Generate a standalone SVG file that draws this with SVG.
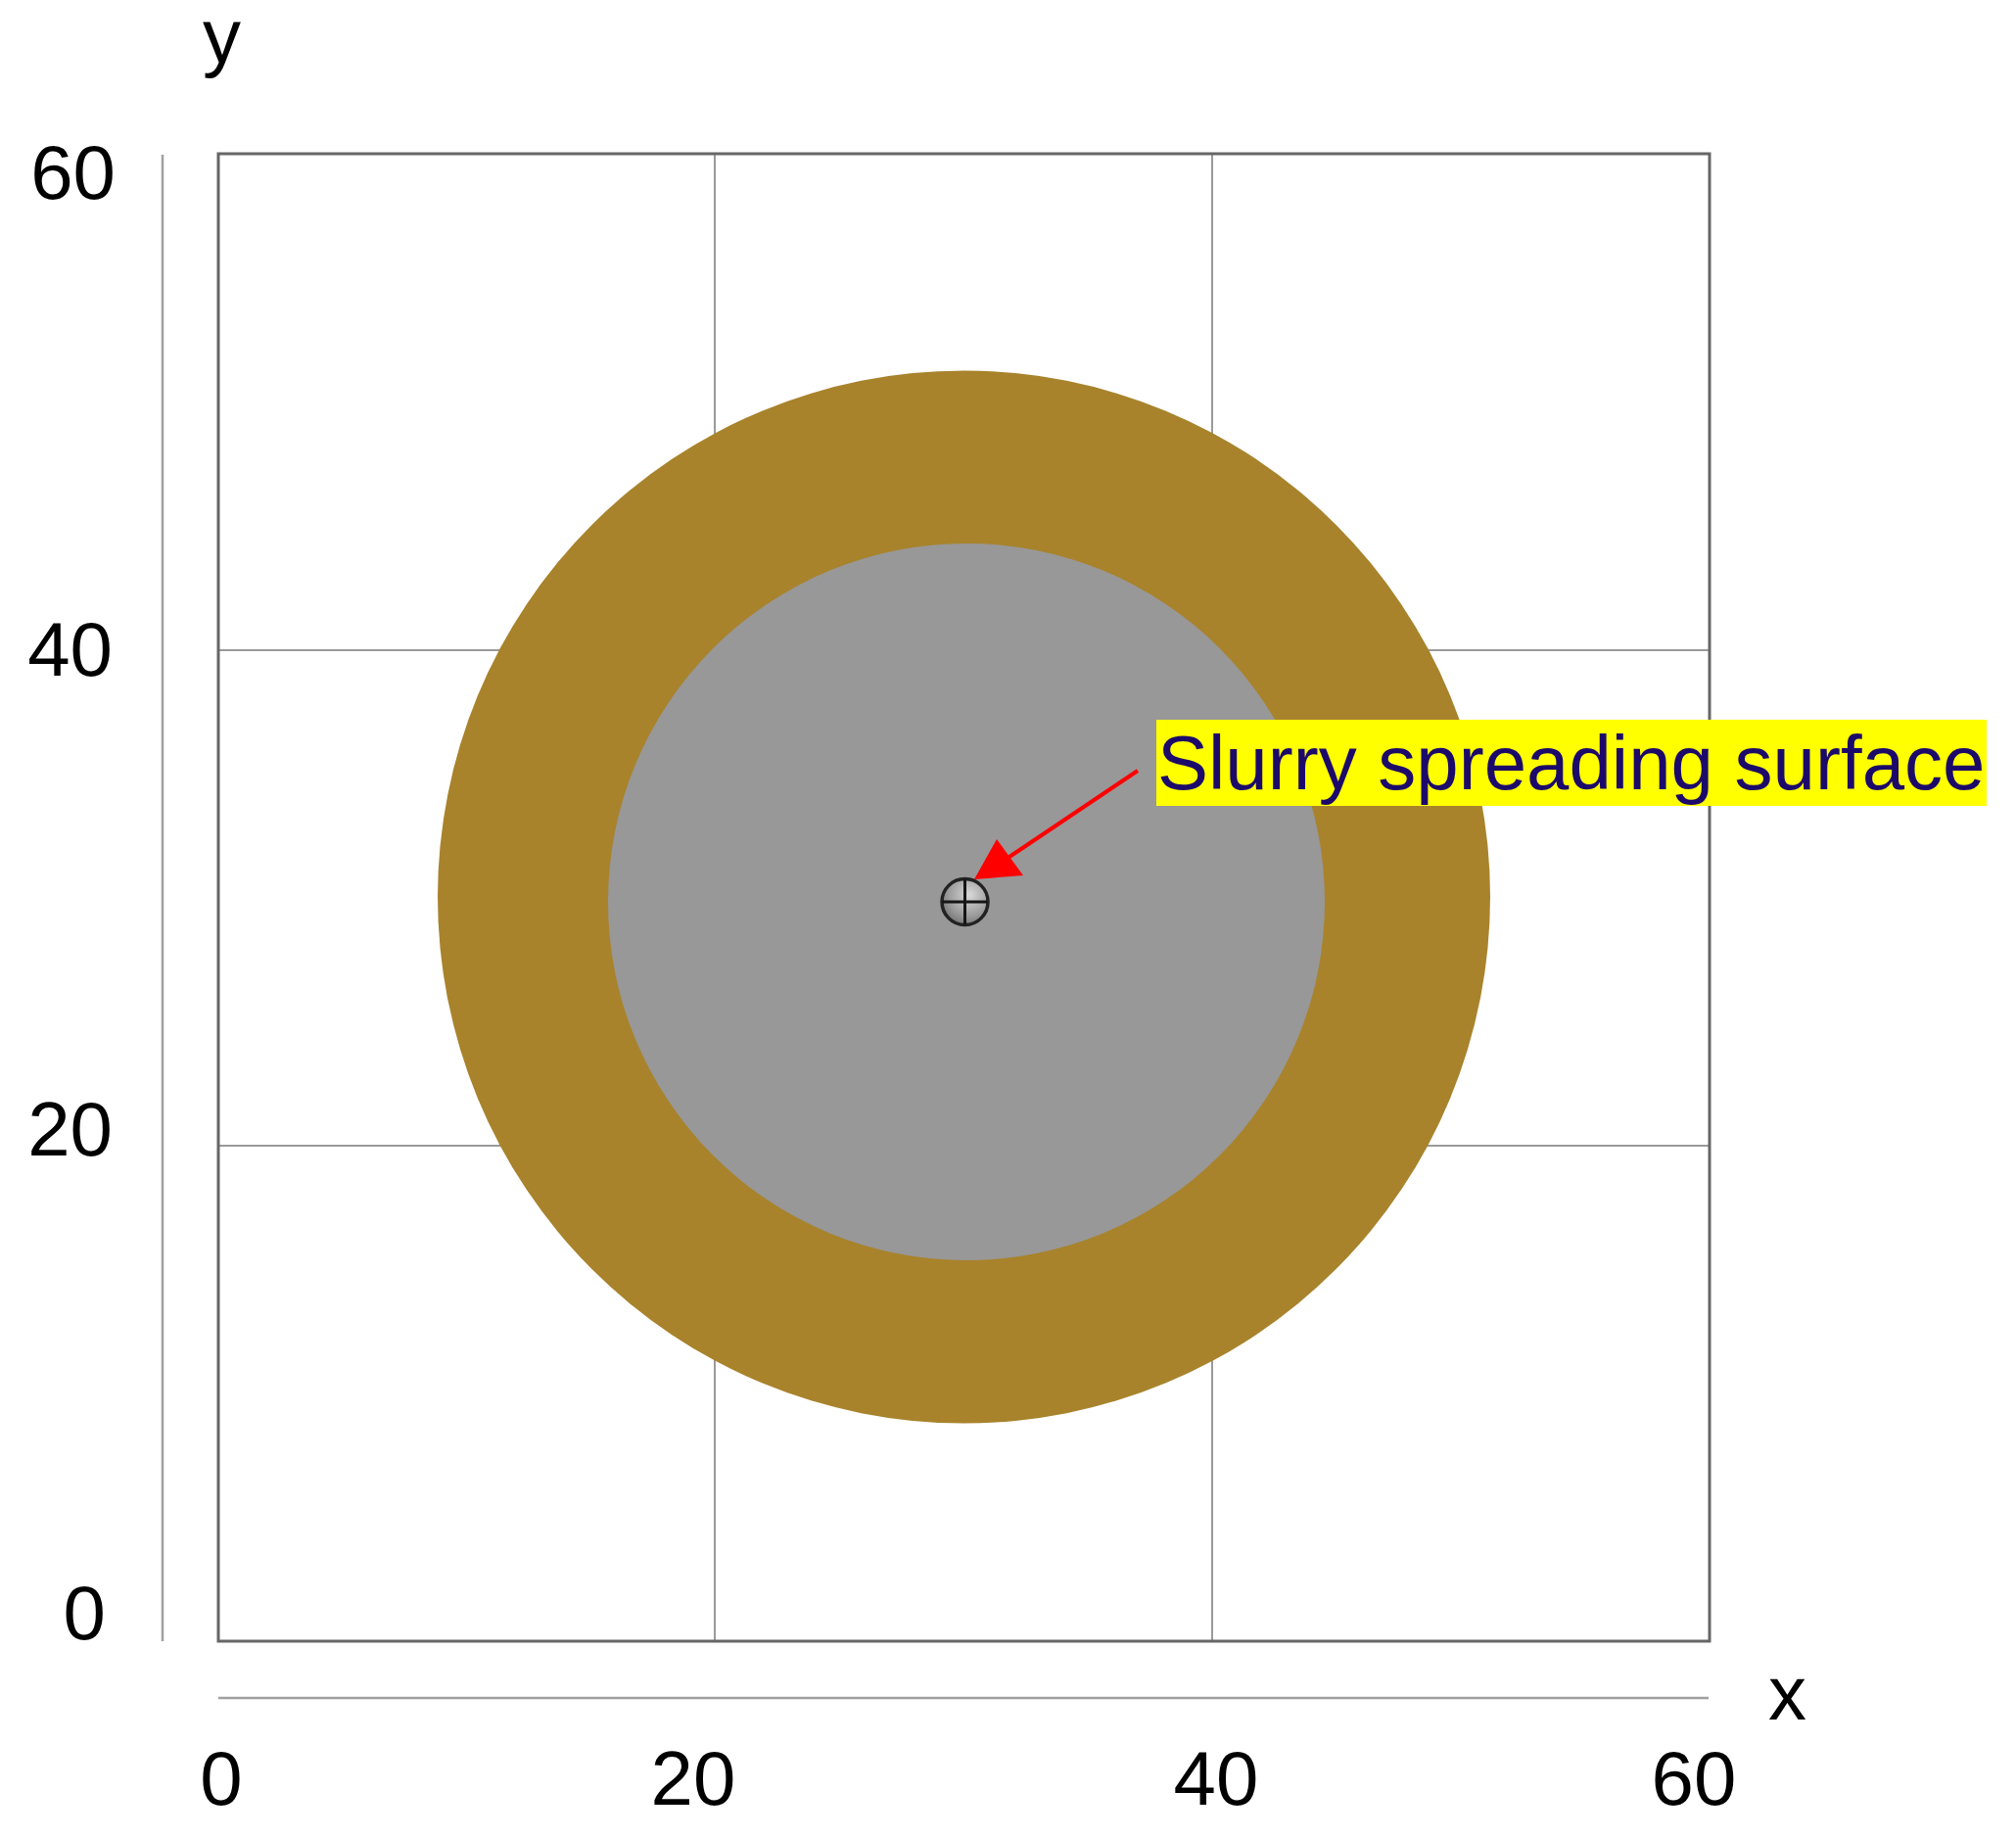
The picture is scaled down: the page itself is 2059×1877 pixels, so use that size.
<svg xmlns="http://www.w3.org/2000/svg" width="2059" height="1877" viewBox="0 0 2059 1877">
  <style>
    .grid { stroke: #9a9a9a; stroke-width: 2; fill: none; }
    .frame { stroke: #666666; stroke-width: 3; fill: none; }
    .axis { stroke: #a0a0a0; stroke-width: 2.5; fill: none; }
    .tick { font-family: "Liberation Sans", Arial, sans-serif; font-size: 78px; fill: #000000; }
    .label { font-family: "Liberation Sans", Arial, sans-serif; font-size: 78px; fill: #1c0a6a; }
  </style>
  <defs>
    <radialGradient id="ball" cx="0.6" cy="0.35" r="0.75">
      <stop offset="0" stop-color="#d8d8d8"/>
      <stop offset="0.6" stop-color="#9c9c9c"/>
      <stop offset="1" stop-color="#6a6a6a"/>
    </radialGradient>
  </defs>
  <rect x="0" y="0" width="2059" height="1877" fill="#ffffff"/>

  <g id="axes">
    <line class="axis" x1="166" y1="158" x2="166" y2="1676"/>
    <line class="axis" x1="223" y1="1734" x2="1745" y2="1734"/>
  </g>

  <g id="grid">
    <line class="grid" x1="730" y1="157" x2="730" y2="1676"/>
    <line class="grid" x1="1238" y1="157" x2="1238" y2="1676"/>
    <line class="grid" x1="223" y1="664" x2="1746" y2="664"/>
    <line class="grid" x1="223" y1="1170" x2="1746" y2="1170"/>
    <rect class="frame" x="223" y="157" width="1523" height="1519"/>
  </g>

  <g id="outer-ring">
    <circle cx="984.5" cy="916" r="537.5" fill="#a8832c"/>
  </g>

  <g id="inner-surface">
    <circle cx="987" cy="921" r="366" fill="#989898"/>
  </g>

  <g id="center-point">
    <circle cx="985.5" cy="921" r="23.5" fill="url(#ball)" stroke="#222222" stroke-width="3.5"/>
    <line x1="985.5" y1="898" x2="985.5" y2="944" stroke="#151515" stroke-width="3"/>
    <line x1="962.5" y1="921" x2="1008.5" y2="921" stroke="#151515" stroke-width="3"/>
  </g>

  <g id="callout">
    <rect x="1181" y="735" width="848" height="88" fill="#ffff00"/>
    <text class="label" x="1182" y="806">Slurry spreading surface</text>
  </g>

  <g id="connectors">
    <line x1="1162" y1="787" x2="1028" y2="877" stroke="#ff0000" stroke-width="4"/>
    <polygon points="995,898 1018,857 1045,894" fill="#ff0000"/>
  </g>

  <g id="tick-labels">
    <text class="tick" x="207" y="64">y</text>
    <text class="tick" x="118" y="203" text-anchor="end">60</text>
    <text class="tick" x="115" y="690" text-anchor="end">40</text>
    <text class="tick" x="115" y="1180" text-anchor="end">20</text>
    <text class="tick" x="108" y="1674" text-anchor="end">0</text>
    <text class="tick" x="226" y="1843" text-anchor="middle">0</text>
    <text class="tick" x="708" y="1843" text-anchor="middle">20</text>
    <text class="tick" x="1242" y="1843" text-anchor="middle">40</text>
    <text class="tick" x="1730" y="1843" text-anchor="middle">60</text>
    <text class="tick" x="1806" y="1756">x</text>
  </g>
</svg>
